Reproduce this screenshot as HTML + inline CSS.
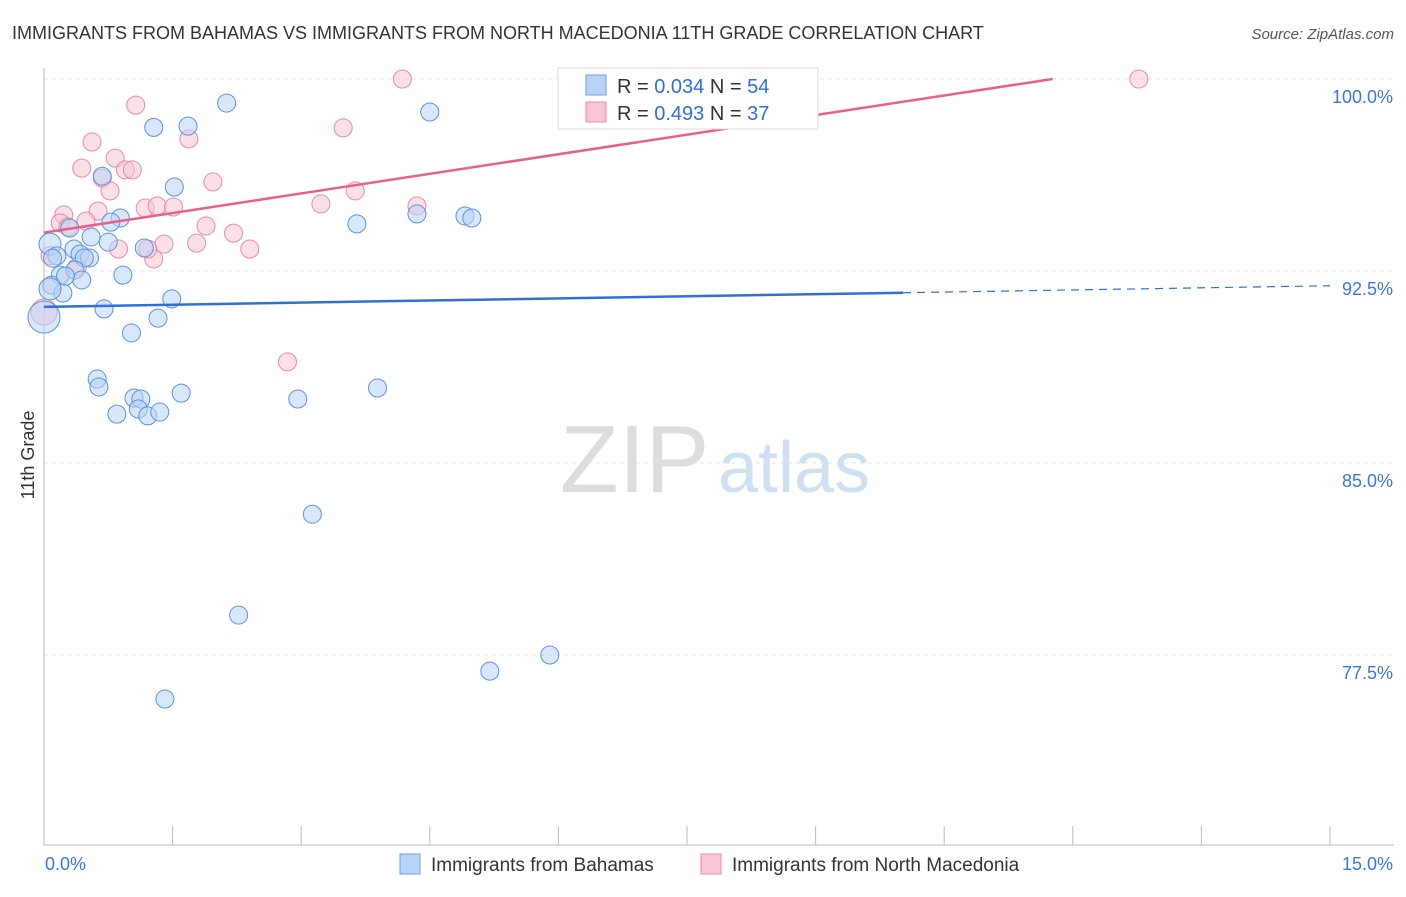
<!DOCTYPE html>
<html><head><meta charset="utf-8"><style>
body{margin:0;background:#fff;font-family:"Liberation Sans",sans-serif}
svg text{font-family:"Liberation Sans",sans-serif}
</style></head><body>
<svg id="chart" width="1406" height="892">
<text x="12" y="39" font-size="18" fill="#333">IMMIGRANTS FROM BAHAMAS VS IMMIGRANTS FROM NORTH MACEDONIA 11TH GRADE CORRELATION CHART</text>
<text x="1394" y="39" font-size="15" fill="#555" font-style="italic" text-anchor="end">Source: ZipAtlas.com</text>
<text x="34" y="455" font-size="18" fill="#333" transform="rotate(-90 34 455)" text-anchor="middle">11th Grade</text>
<text x="560" y="492" font-size="96" fill="#ddd" font-family="Liberation Serif">ZIP</text>
<text x="718" y="492" font-size="72" fill="#cfe0f3">atlas</text>
<g id="grid"></g><g id="axes"></g><g id="pts"></g><g id="lines"></g>
<g>
<rect x="558" y="68" width="260" height="61" fill="#fff" stroke="#ddd"/>
<rect x="586" y="75" width="20" height="20" fill="#b9d3f5" stroke="#6a9fe0"/>
<rect x="586" y="102" width="20" height="20" fill="#f9c6d6" stroke="#e88aa8"/>
<text x="617" y="93" font-size="20" fill="#333">R = <tspan fill="#2f6fd6">0.034</tspan>   N = <tspan fill="#2f6fd6">54</tspan></text>
<text x="617" y="120" font-size="20" fill="#333">R = <tspan fill="#2f6fd6">0.493</tspan>   N = <tspan fill="#2f6fd6">37</tspan></text>
</g>
<g>
<rect x="400" y="854" width="20" height="20" fill="#b9d3f5" stroke="#6a9fe0"/>
<text x="431" y="871" font-size="19" fill="#333">Immigrants from Bahamas</text>
<rect x="701" y="854" width="20" height="20" fill="#f9c6d6" stroke="#e88aa8"/>
<text x="732" y="871" font-size="19" fill="#333">Immigrants from North Macedonia</text>
</g>
</svg>
<script>
const yTicks=[100,92.5,85,77.5];
const yTickLabels=["100.0%","92.5%","85.0%","77.5%"];
const xTickVals=[0,1.5,3,4.5,6,7.5,9,10.5,12,13.5,15];
const blueX=[2.13,1.28,1.68,4.5,6.86,8.86,0.68,1.52,0.89,0.78,3.65,4.35,4.91,4.99,0.30,0.55,0.75,1.17,0.07,0.35,0.15,0.42,0.53,0.47,0.19,0.36,0.92,0.44,0.09,0.22,1.49,0.70,1.33,1.02,0.0,0.62,0.64,1.60,1.05,1.13,2.96,3.89,0.85,1.10,1.21,1.35,3.13,2.27,5.20,5.90,1.41,0.07,0.10,0.25];
const blueY=[99.06,98.11,98.16,98.71,100,100,96.2,95.78,94.57,94.41,94.34,94.73,94.65,94.57,94.18,93.83,93.63,93.4,93.55,93.36,93.09,93.16,93.01,93.01,92.34,92.54,92.34,92.15,91.95,91.64,91.41,91.02,90.66,90.08,90.7,88.28,87.97,87.73,87.54,87.5,87.5,87.93,86.91,87.11,86.84,86.99,83.0,79.06,76.87,77.5,75.78,91.8,93.0,92.3];
const blueSize=[9,9,9,9,9,9,9,9,9,9,9,9,9,9,9,9,9,9,11,9,9,9,9,9,9,9,9,9,9,9,9,9,9,9,16,9,9,9,9,9,9,9,9,9,9,9,9,9,9,9,9,11,9,9];
const pinkX=[4.18,8.08,12.77,1.07,3.49,0.56,1.69,0.83,0.44,0.95,1.03,0.68,0.77,1.97,3.63,3.23,4.35,1.18,1.32,1.51,0.63,0.23,0.19,0.49,0.28,1.89,2.21,0.87,1.40,1.78,2.40,1.28,0.39,2.84,0.07,0.0,1.21];
const pinkY=[100,100,100,98.98,98.09,97.54,97.66,96.91,96.52,96.45,96.45,96.13,95.63,95.98,95.63,95.12,95.04,94.96,95.04,95.0,94.84,94.69,94.38,94.45,94.22,94.26,93.98,93.36,93.55,93.59,93.36,92.97,92.66,88.95,93.1,90.9,93.36];
const pinkSize=[9,9,9,9,9,9,9,9,9,9,9,9,9,9,9,9,9,9,9,9,9,9,9,9,9,9,9,9,9,9,9,9,9,9,9,13,9];
const blueLine=[91.1,0.055]; // intercept, slope per %
const pinkLine=[94.0,0.510];
const blueSolidEnd=10.02;
const NS="http://www.w3.org/2000/svg";
const X0=44,X1=1330,Y0=79,PXY=25.6;
const xs=v=>X0+(v-0)/15*(X1-X0);
const ys=v=>Y0+(100-v)*PXY;
function mk(t,a,p){const e=document.createElementNS(NS,t);for(const k in a)e.setAttribute(k,a[k]);p.appendChild(e);return e;}
const grid=document.getElementById('grid'),axes=document.getElementById('axes'),pts=document.getElementById('pts'),lines=document.getElementById('lines');
yTicks.forEach((v,i)=>{
 const l=mk('line',{x1:44,x2:1394,y1:ys(v),y2:ys(v),stroke:'#e4e4e4','stroke-dasharray':'4 4'},grid);
 
 
 const t=mk('text',{x:1393,y:ys(v)+24,'font-size':18,fill:'#3a78d4','text-anchor':'end'},axes);
 t.textContent=yTickLabels[i];
 
 
});
const ax=mk('line',{x1:44,x2:44,y1:68,y2:845,stroke:'#bbb'},axes);


const bx=mk('line',{x1:44,x2:1394,y1:845,y2:845,stroke:'#bbb'},axes);


xTickVals.forEach(v=>{
 const t=mk('line',{x1:xs(v),x2:xs(v),y1:826,y2:845,stroke:'#bbb'},axes);
 
 
});
const xl=mk('text',{x:45,y:870,'font-size':18,fill:'#3a78d4'},axes);xl.textContent='0.0%';


const xr=mk('text',{x:1393,y:870,'font-size':18,fill:'#3a78d4','text-anchor':'end'},axes);xr.textContent='15.0%';


function dots(X,Y,S,fill,stroke,name){X.forEach((x,i)=>{
 const c=mk('circle',{cx:xs(x),cy:ys(Y[i]),r:S[i],fill:fill,stroke:stroke,'stroke-width':1,'fill-opacity':0.55},pts);
 
 
});}
dots(pinkX,pinkY,pinkSize,'#f9c6d6','#e88aa8','point-macedonia');
dots(blueX,blueY,blueSize,'#b9d3f5','#5b93dd','point-bahamas');
const bl=(x)=>blueLine[0]+blueLine[1]*x;
const b1=mk('line',{x1:xs(0),y1:ys(bl(0)),x2:xs(blueSolidEnd),y2:ys(bl(blueSolidEnd)),stroke:'#2f6fd6','stroke-width':2.5},lines);


const b2=mk('line',{x1:xs(blueSolidEnd),y1:ys(bl(blueSolidEnd)),x2:xs(15),y2:ys(bl(15)),stroke:'#2f6fd6','stroke-width':1.2,'stroke-dasharray':'8 6'},lines);


const pl=(x)=>pinkLine[0]+pinkLine[1]*x;
const pEnd=Math.min(15,(100-pinkLine[0])/pinkLine[1]);
const p1=mk('line',{x1:xs(0),y1:ys(pl(0)),x2:xs(pEnd),y2:ys(pl(pEnd)),stroke:'#e8608a','stroke-width':2.5},lines);


</script>
</body></html>
